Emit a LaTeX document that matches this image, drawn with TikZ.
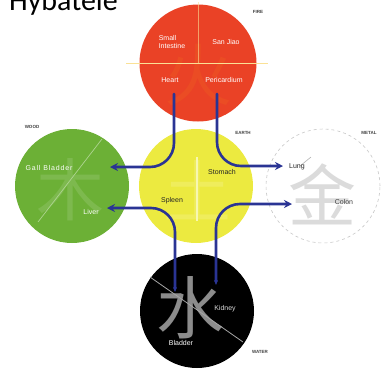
\documentclass[tikz,border=0pt]{standalone}
\usepackage{fontspec}
\setmainfont{Liberation Sans}
\newfontfamily\titlefont{Carlito}
\newfontfamily\cjk{Noto Sans CJK SC}
\usetikzlibrary{arrows.meta}

\definecolor{firered}{RGB}{234,66,38}
\definecolor{woodgreen}{RGB}{108,176,54}
\definecolor{earthyellow}{RGB}{236,234,64}
\definecolor{arrowblue}{RGB}{42,52,148}
\definecolor{paleline}{RGB}{250,225,150}

\tikzset{
  element/.style={circle, minimum size=114pt, inner sep=0pt},
  organ/.style={font=\fontsize{7}{8.5}\selectfont, align=center, inner sep=0.5pt},
  phase/.style={font=\fontsize{4.5}{5}\selectfont\bfseries, text=black!75, inner sep=0.5pt},
  glyph/.style={font=\cjk\fontsize{68}{68}\selectfont, inner sep=0pt},
  flow/.style={arrowblue, line width=2.6pt, rounded corners=24pt},
}

\begin{document}
\begin{tikzpicture}[x=1pt,y=-1pt]
\useasboundingbox (0,0) rectangle (389,368);

% title (cut at top)
\node[anchor=base west, inner sep=0pt, font=\titlefont\fontsize{30}{30}\selectfont] (title) at (9,10) {Hybatele};

% element circles
\node[element, fill=firered, minimum size=117pt] (fire) at (198,63) {};
\node[element, fill=earthyellow] (earth) at (196,186) {};
\node[element, fill=woodgreen] (wood) at (72,186) {};
\node[element, fill=white, draw=black!22, dashed, line width=0.6pt] (metal) at (323,186) {};
\node[element, fill=black] (water) at (197,311) {};

% faint characters
\node[glyph, text=firered!70!yellow, opacity=0.18] (huo) at (198,75) {火};
\node[glyph, text=woodgreen!60!white, opacity=0.3] (mu) at (70,190) {木};
\node[glyph, text=earthyellow!50!white, opacity=0.3] (tu) at (197,190) {土};
\node[glyph, text=black!14] (jin) at (322,194) {金};
\node[glyph, text=black!45] (shui) at (190,308) {水};

% guide lines
\draw[paleline, line width=0.8pt] (126,63) -- (268,63);
\draw[paleline, line width=0.6pt, opacity=0.6] (198,2) -- (198,63);
\draw[earthyellow!40!white, line width=1.2pt] (197,157) -- (197,221);
\draw[woodgreen!55!white, line width=0.7pt] (102,139) -- (38,222);
\draw[black!35, line width=0.8pt] (150,277) -- (243,342);
\draw[black!30, line width=0.6pt] (300,166) -- (311,157);

% organ labels
\node[organ, text=white, align=left] (si) at (172,42) {Small\\Intestine};
\node[organ, text=white] (sj) at (226,42) {San Jiao};
\node[organ, text=white] (heart) at (170,80) {Heart};
\node[organ, text=white] (peri) at (224,80) {Pericardium};
\node[organ, text=white, font=\fontsize{7}{8}\selectfont\addfontfeature{LetterSpace=12}] (gall) at (49,168) {Gall Bladder};
\node[organ, text=white] (liver) at (91,212) {Liver};
\node[organ, text=black!85] (stomach) at (222,172) {Stomach};
\node[organ, text=black!85] (spleen) at (172,201) {Spleen};
\node[organ, text=black!85] (lung) at (297,167) {Lung};
\node[organ, text=black!75] (colon) at (344,202) {Colon};
\node[organ, text=white!85!black] (kidney) at (225,309) {Kidney};
\node[organ, text=white] (bladder) at (181,343) {Bladder};

% phase labels
\node[phase] (lfire) at (258,12) {FIRE};
\node[phase] (lwood) at (32,127) {WOOD};
\node[phase] (learth) at (243,133) {EARTH};
\node[phase] (lmetal) at (369,133) {METAL};
\node[phase] (lwater) at (260,352) {WATER};

% arrow end points
\coordinate (heartEnd) at (174,94);
\coordinate (periEnd) at (217,94);
\coordinate (gallEnd) at (110,167);
\coordinate (lungEnd) at (283,166);
\coordinate (liverEnd) at (107,208);
\coordinate (colonEnd) at (292,204);
\coordinate (bladderEnd) at (175,292);
\coordinate (kidneyEnd) at (216,285);

% arrows
\draw[flow, line cap=round, -{Stealth[length=8pt,width=8pt]}] (heartEnd) |- (gallEnd);
\draw[flow, line cap=round, -{Stealth[length=8pt,width=8pt]}] (periEnd) |- (lungEnd);
\draw[flow, {Stealth[length=8pt,width=8pt]}-{Stealth[length=5pt,width=4pt]}] (liverEnd) -| (bladderEnd);
\draw[flow, {Stealth[length=8pt,width=8pt]}-{Stealth[length=5pt,width=4pt]}] (colonEnd) -| (kidneyEnd);
\end{tikzpicture}
\end{document}
